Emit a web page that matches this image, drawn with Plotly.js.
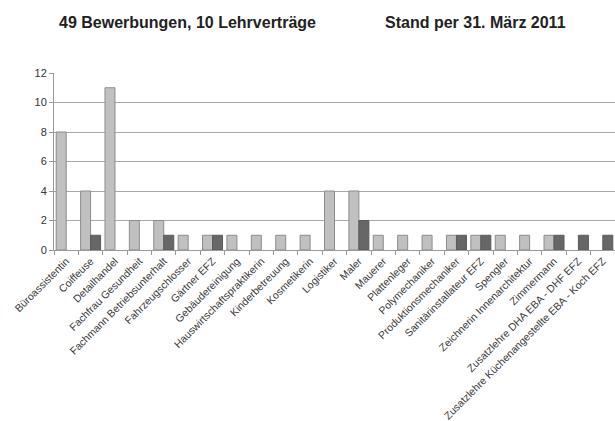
<!DOCTYPE html>
<html>
<head>
<meta charset="utf-8">
<script src="https://cdn.plot.ly/plotly-3.0.1.min.js"></script>
<style>html,body{margin:0;padding:0;background:#fff;}#chart{width:615px;height:421px;}</style>
</head>
<body>
<div id="chart"></div>
<script>
const categories = ["Büroassistentin","Coiffeuse","Detailhandel","Fachfrau Gesundheit","Fachmann Betriebsunterhalt","Fahrzeugschlosser","Gärtner EFZ","Gebäudereinigung","Hauswirtschaftspraktikerin","Kinderbetreuung","Kosmetikerin","Logistiker","Maler","Mauerer","Plattenleger","Polymechaniker","Produktionsmechaniker","Sanitärinstallateur EFZ","Spengler","Zeichnerin Innenarchitektur","Zimmermann","Zusatzlehre DHA EBA - DHF EFZ","Zusatzlehre Küchenangestellte EBA - Koch EFZ"];
const bewerbungen = [8,4,11,2,2,1,1,1,1,1,1,4,4,1,1,1,1,1,1,1,1,0,0];
const lehrvertraege = [0,1,0,0,1,0,1,0,0,0,0,0,2,0,0,0,1,1,0,0,1,1,1];
const yTicks = [0,2,4,6,8,10,12];
const titleLeft = "49 Bewerbungen, 10 Lehrverträge";
const titleRight = "Stand per 31. März 2011";

// zero-height bars are not drawn in the original (no outline at 0)
const hideZero = arr => arr.map(v => v === 0 ? null : v);

const traces = [
  {type:"bar", name:"Bewerbungen", x:categories, y:hideZero(bewerbungen),
   marker:{color:"#c0c0c0", line:{color:"#8c8c8c", width:1}}},
  {type:"bar", name:"Lehrverträge", x:categories, y:hideZero(lehrvertraege),
   marker:{color:"#676767", line:{color:"#5a5a5a", width:1}}}
];
const plotW = 615-54, plotH = 421-73-171;
const layout = {
  width:615, height:421,
  margin:{l:54, r:0, t:73, b:171},
  paper_bgcolor:"#fff", plot_bgcolor:"#fff",
  barmode:"group", bargap:0.18, bargroupgap:0,
  showlegend:false,
  font:{family:"Liberation Sans, Arial, sans-serif", color:"#333", size:11},
  xaxis:{type:"category", tickangle:-45, tickson:"boundaries", ticks:"outside", ticklen:4,
         tickcolor:"#999", showline:true, linecolor:"#999", linewidth:1, showgrid:false,
         tickfont:{size:10.5, color:"#3a3a3a"}, automargin:false},
  yaxis:{range:[0,12], tickvals:yTicks, ticks:"outside", ticklen:4, tickcolor:"#999",
         showline:true, linecolor:"#999", linewidth:1, showgrid:true, gridcolor:"#a8a8a8",
         gridwidth:1, zeroline:false, tickfont:{size:11, color:"#333"}, automargin:false},
  annotations:[
    {text:"<b>"+titleLeft+"</b>", xref:"paper", yref:"paper", x:(57-54)/plotW, xanchor:"left",
     y:(250-23)/plotH, yanchor:"middle", showarrow:false, font:{size:16, color:"#222"}},
    {text:"<b>"+titleRight+"</b>", xref:"paper", yref:"paper", x:(568-54)/plotW, xanchor:"right",
     y:(250-23)/plotH, yanchor:"middle", showarrow:false, font:{size:16, color:"#222"}}
  ]
};
Plotly.newPlot("chart", traces, layout, {displayModeBar:false, staticPlot:true});
</script>
</body>
</html>
